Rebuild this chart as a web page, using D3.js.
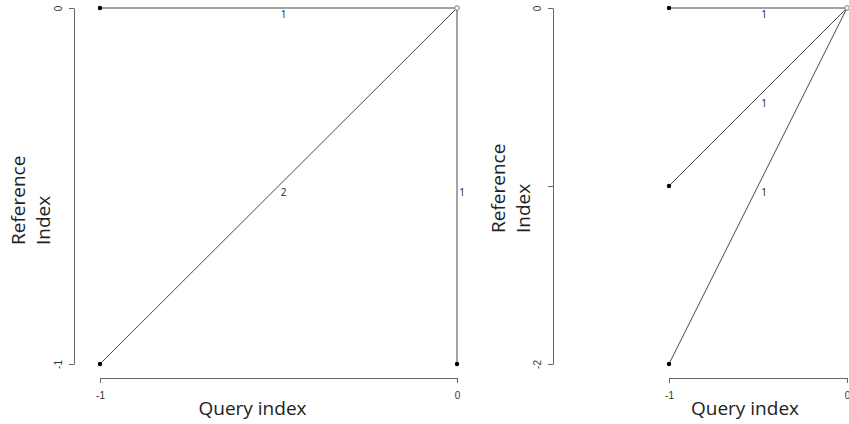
<!DOCTYPE html>
<html>
<head>
<meta charset="utf-8">
<script src="https://cdn.jsdelivr.net/npm/d3@7"></script>
<style>
  html, body { margin: 0; padding: 0; background: #fff; }
  svg { display: block; font-family: "Open Sans", "Noto Sans", sans-serif; }
</style>
</head>
<body>
<svg id="chart" width="849" height="424"></svg>
<script>
// Panel 1: query index -1..0 against reference index -1..0
const leftNodes = [
  { q: -1, r: 0, open: false },
  { q: 0, r: 0, open: true },
  { q: -1, r: -1, open: false },
  { q: 0, r: -1, open: false }
];
const leftEdges = [
  { from: [-1, 0], to: [0, 0], weight: 1 },
  { from: [-1, -1], to: [0, 0], weight: 2 },
  { from: [0, -1], to: [0, 0], weight: 1 }
];
const leftXTicks = [-1, 0];
const leftYTicks = [0, -1];
const leftYLabelled = [0, -1];

// Panel 2: query index -1..0 against reference index -2..0
const rightNodes = [
  { q: -1, r: 0, open: false },
  { q: -1, r: -1, open: false },
  { q: -1, r: -2, open: false },
  { q: 0, r: 0, open: true }
];
const rightEdges = [
  { from: [-1, 0], to: [0, 0], weight: 1 },
  { from: [-1, -1], to: [0, 0], weight: 1 },
  { from: [-1, -2], to: [0, 0], weight: 1 }
];
const rightXTicks = [-1, 0];
const rightYTicks = [0, -1, -2];
const rightYLabelled = [0, -2];

const xTitle = "Query index";
const yTitle = ["Reference", "Index"];

const svg = d3.select("#chart");
const plainNumber = d => String(d);

function panel(cfg) {
  const g = svg.append("g");
  const x = d3.scaleLinear().domain([-1, 0]).range(cfg.xRange);
  const y = d3.scaleLinear().domain(cfg.yDomain).range([364, 8]);

  // x axis
  const xa = g.append("g")
    .attr("transform", "translate(0,378)")
    .call(d3.axisBottom(x).tickValues(cfg.xTicks).tickFormat(plainNumber)
      .tickSize(5).tickSizeOuter(0).tickPadding(9));
  xa.select(".domain").attr("stroke", "#666");
  xa.selectAll(".tick line").attr("stroke", "#666");
  xa.selectAll("text").attr("font-size", 10).attr("fill", "#333")
    .attr("font-family", "inherit");

  // y axis with rotated labels
  const ya = g.append("g")
    .attr("transform", `translate(${cfg.yAxisX},0)`)
    .call(d3.axisLeft(y).tickValues(cfg.yTicks)
      .tickFormat(d => cfg.yLabelled.includes(d) ? String(d) : "")
      .tickSize(5).tickSizeOuter(0));
  ya.select(".domain").attr("stroke", "#666");
  ya.selectAll(".tick line").attr("stroke", "#666");
  ya.selectAll("text")
    .attr("x", null).attr("dy", null)
    .attr("transform", "translate(-12,0) rotate(-90)")
    .attr("text-anchor", "middle")
    .attr("font-size", 10).attr("fill", "#333")
    .attr("font-family", "inherit");

  // edges
  g.append("g").selectAll("line").data(cfg.edges).join("line")
    .attr("x1", d => x(d.from[0])).attr("y1", d => y(d.from[1]))
    .attr("x2", d => x(d.to[0])).attr("y2", d => y(d.to[1]))
    .attr("stroke", "#333").attr("stroke-width", 0.9);

  // edge weights at midpoints
  g.append("g").selectAll("text").data(cfg.edges).join("text")
    .attr("x", d => (x(d.from[0]) + x(d.to[0])) / 2 + cfg.labelDx)
    .attr("y", d => (y(d.from[1]) + y(d.to[1])) / 2 + 6)
    .attr("dy", "0.35em")
    .attr("text-anchor", "middle")
    .attr("font-size", 10).attr("fill", "#222")
    .text(d => d.weight);

  // nodes
  g.append("g").selectAll("circle").data(cfg.nodes).join("circle")
    .attr("cx", d => x(d.q)).attr("cy", d => y(d.r))
    .attr("r", d => d.open ? 2.3 : 2.2)
    .attr("fill", d => d.open ? "#fff" : "#000")
    .attr("stroke", d => d.open ? "#555" : "none")
    .attr("stroke-width", 0.8);

  // axis titles
  g.append("text")
    .attr("x", (cfg.xRange[0] + cfg.xRange[1]) / 2 + cfg.xTitleDx)
    .attr("y", 415)
    .attr("text-anchor", "middle")
    .attr("font-size", 19).attr("fill", "#222")
    .text(xTitle);

  yTitle.forEach((t, i) => {
    g.append("text")
      .attr("transform", `translate(${cfg.yTitleX + i * 25},${cfg.yTitleBottom}) rotate(-90)`)
      .attr("text-anchor", "start")
      .attr("font-size", 19).attr("fill", "#222")
      .text(t);
  });
}

panel({
  xRange: [100, 457], yDomain: [-1, 0], yAxisX: 74,
  xTicks: leftXTicks, yTicks: leftYTicks, yLabelled: leftYLabelled,
  nodes: leftNodes, edges: leftEdges, labelDx: 5,
  xTitleDx: -26, yTitleX: 25, yTitleBottom: 245
});

panel({
  xRange: [669, 847], yDomain: [-2, 0], yAxisX: 553,
  xTicks: rightXTicks, yTicks: rightYTicks, yLabelled: rightYLabelled,
  nodes: rightNodes, edges: rightEdges, labelDx: 6,
  xTitleDx: -13, yTitleX: 505, yTitleBottom: 233
});
</script>
</body>
</html>
